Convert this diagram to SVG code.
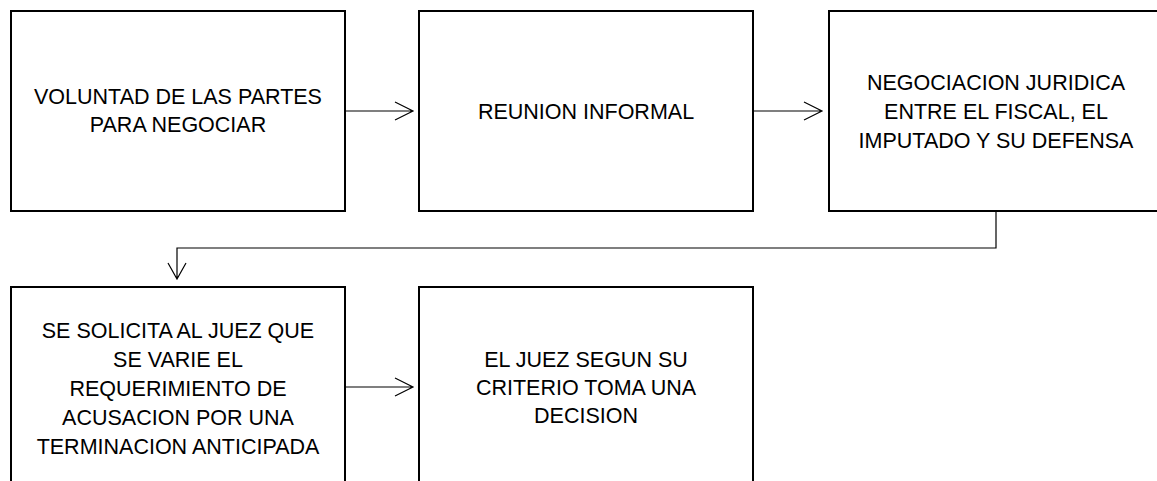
<svg xmlns="http://www.w3.org/2000/svg" width="1157" height="481" viewBox="0 0 1157 481">
<style>
.box{fill:#fff;stroke:#000;stroke-width:2}
.lbl{font-family:"Liberation Sans",Arial,sans-serif;font-size:21.5px;fill:#000;text-anchor:middle}
.con{fill:none;stroke:#000;stroke-width:1.2}
</style>
<rect width="1157" height="481" fill="#fff"/>
<g id="connectors">
<path class="con" d="M345 111H413M395 102L413 111L395 120"/>
<path class="con" d="M753 111H822M804 102L822 111L804 120"/>
<path class="con" d="M996 212V248H177V279M168 263L177 279L186 263"/>
<path class="con" d="M345 387H413M395 378L413 387L395 396"/>
</g>
<g id="n1">
<rect class="box" x="11" y="11" width="334" height="200"/>
<text class="lbl" x="178" y="104">VOLUNTAD DE LAS PARTES</text>
<text class="lbl" x="178" y="132">PARA NEGOCIAR</text>
</g>
<g id="n2">
<rect class="box" x="419" y="11" width="334" height="200"/>
<text class="lbl" x="586" y="119">REUNION INFORMAL</text>
</g>
<g id="n3">
<rect class="box" x="829" y="11" width="334" height="200"/>
<text class="lbl" x="996" y="90">NEGOCIACION JURIDICA</text>
<text class="lbl" x="996" y="119">ENTRE EL FISCAL, EL</text>
<text class="lbl" x="996" y="148">IMPUTADO Y SU DEFENSA</text>
</g>
<g id="n4">
<rect class="box" x="11" y="287" width="334" height="220"/>
<text class="lbl" x="178" y="338">SE SOLICITA AL JUEZ QUE</text>
<text class="lbl" x="178" y="367">SE VARIE EL</text>
<text class="lbl" x="178" y="396">REQUERIMIENTO DE</text>
<text class="lbl" x="178" y="425">ACUSACION POR UNA</text>
<text class="lbl" x="178" y="454">TERMINACION ANTICIPADA</text>
</g>
<g id="n5">
<rect class="box" x="419" y="287" width="334" height="220"/>
<text class="lbl" x="586" y="367">EL JUEZ SEGUN SU</text>
<text class="lbl" x="586" y="395">CRITERIO TOMA UNA</text>
<text class="lbl" x="586" y="423">DECISION</text>
</g>
</svg>
